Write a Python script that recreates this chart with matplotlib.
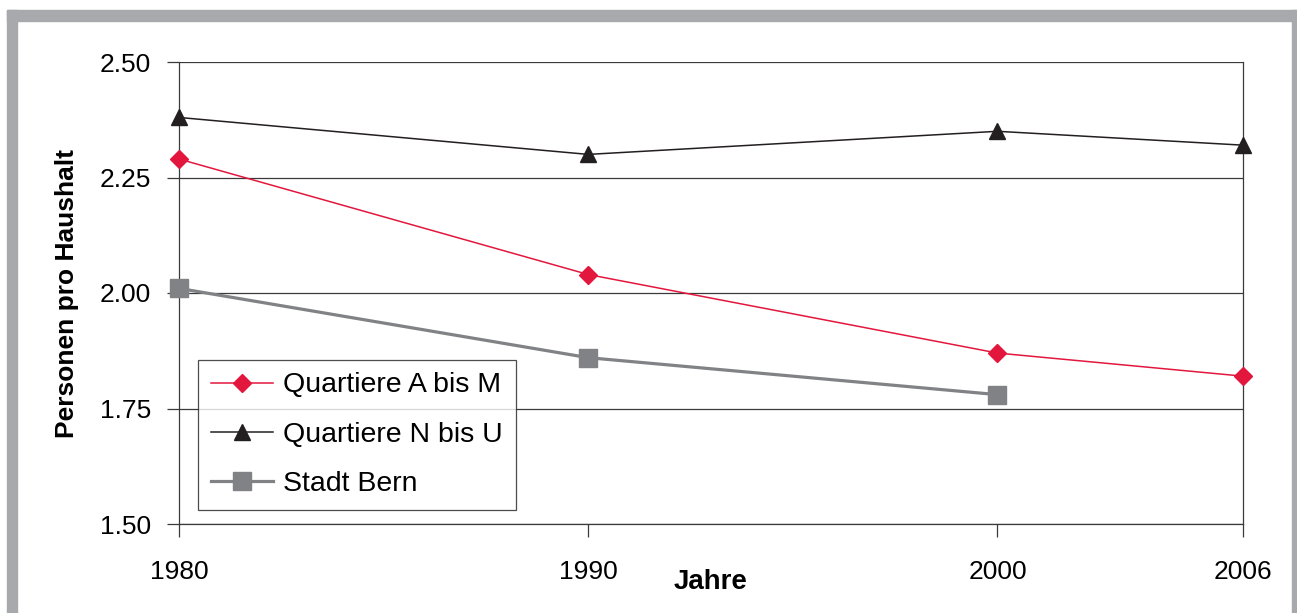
import matplotlib
matplotlib.use("Agg")
import matplotlib.pyplot as plt
from matplotlib.patches import Rectangle

# data
years = [1980, 1990, 2000, 2006]
quartiere_a_m = [2.29, 2.04, 1.87, 1.82]
quartiere_n_u = [2.38, 2.30, 2.35, 2.32]
stadt_bern_years = [1980, 1990, 2000]
stadt_bern = [2.01, 1.86, 1.78]
y_ticks = [1.50, 1.75, 2.00, 2.25, 2.50]

plt.rcParams["font.family"] = ["Liberation Sans", "DejaVu Sans"]

W, H = 1297, 613
fig = plt.figure(figsize=(W / 100, H / 100), dpi=100)

# grey frame around the picture (bottom is cut off)
grey = "#a7a9ac"
for x0, y0, w, h in [(7, 10, 1290, 11), (7, 10, 10, 603), (1292, 10, 5, 603)]:
    fig.patches.append(Rectangle((x0 / W, 1 - (y0 + h) / H), w / W, h / H,
                                 transform=fig.transFigure, color=grey, zorder=0))

ax = fig.add_axes([179 / W, 1 - 524 / H, (1243 - 179) / W, (524 - 62) / H])

ax.plot(years, quartiere_a_m, color="#e3173e", lw=1.1, marker="D", ms=9.5,
        label="Quartiere A bis M", zorder=3, clip_on=False)
ax.plot(years, quartiere_n_u, color="#231f20", lw=1.1, marker="^", ms=12,
        label="Quartiere N bis U", zorder=3, clip_on=False)
ax.plot(stadt_bern_years, stadt_bern, color="#808285", lw=2.3, marker="s", ms=12.5,
        label="Stadt Bern", zorder=3, clip_on=False)

ax.set_xlim(1980, 2006)
ax.set_ylim(1.5, 2.5)
ax.set_xticks(years)
ax.set_yticks(y_ticks)
ax.set_yticklabels([f"{v:.2f}" for v in y_ticks])
ax.grid(axis="y", color="#3a3a3a", lw=0.9)
ax.set_axisbelow(True)
for s in ax.spines.values():
    s.set_color("#3a3a3a")
    s.set_linewidth(0.9)
ax.spines["top"].set_visible(False)
ax.tick_params(axis="both", labelsize=19, color="#3a3a3a", length=9, width=0.9)
ax.tick_params(axis="x", pad=17)
ax.tick_params(axis="y", pad=11)

ax.set_xlabel("Jahre", fontsize=20, fontweight="bold", labelpad=-11)
ax.set_ylabel("Personen pro Haushalt", fontsize=19, fontweight="bold", labelpad=15)

leg = ax.legend(loc="lower left", bbox_to_anchor=(19 / 1064, 14 / 462), fontsize=20.5,
                frameon=True, fancybox=False, edgecolor="#231f20", borderpad=0.45,
                labelspacing=0.82, handlelength=2.2, handletextpad=0.35, borderaxespad=0)
leg.get_frame().set_linewidth(0.9)

fig.savefig("out.png", dpi=100, facecolor="white")
